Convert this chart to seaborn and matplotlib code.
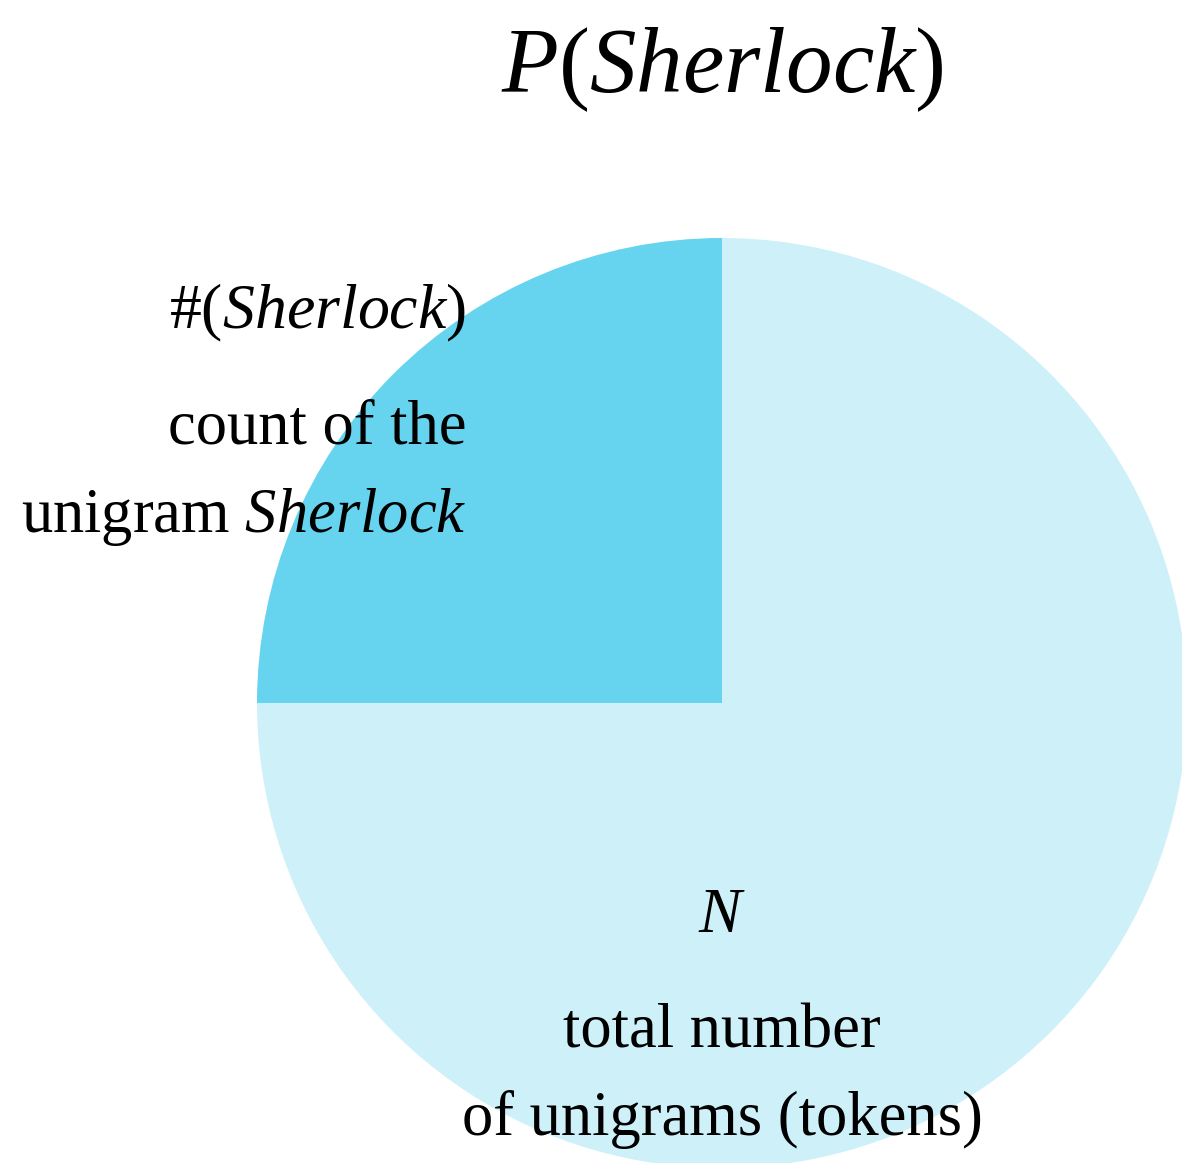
import matplotlib
matplotlib.use("Agg")
import matplotlib.pyplot as plt
import seaborn as sns

# Data
labels = ["#(Sherlock)", "N"]
values = [25, 75]
colors = ["#66D4EF", "#CDF0F9"]

sns.set_theme(style="white")
plt.rcParams['font.family'] = ['Liberation Serif', 'DejaVu Serif']
plt.rcParams['mathtext.fontset'] = 'custom'
plt.rcParams['mathtext.rm'] = 'Liberation Serif'
plt.rcParams['mathtext.it'] = 'Liberation Serif:italic'
plt.rcParams['mathtext.bf'] = 'Liberation Serif:bold'
plt.rcParams['text.color'] = 'black'

W, H = 1182, 1163
fig = plt.figure(figsize=(W / 100, H / 100), dpi=100)
ax = fig.add_axes([0, 0, 1, 1])

cx, cy, r = 722, H - 703, 465
ax.pie(values, colors=colors, startangle=90, counterclock=True,
       center=(cx, cy), radius=r, wedgeprops=dict(linewidth=0))
ax.set_xlim(0, W)
ax.set_ylim(0, H)
ax.set_aspect('auto')
ax.axis('off')

def y(p):
    return H - p

kw = dict(color='black', va='baseline')
ax.text(722, y(92), r'$P(Sherlock)$', fontsize=67, ha='center', **kw)
ax.text(466, y(328), r'$\#(Sherlock)$', fontsize=46, ha='right', **kw)
ax.text(466, y(443), 'count of the', fontsize=45, ha='right', **kw)
ax.text(466, y(532), r'unigram $Sherlock$', fontsize=45, ha='right', **kw)
ax.text(722, y(932), r'$N$', fontsize=46, ha='center', **kw)
ax.text(722, y(1047), 'total number', fontsize=45, ha='center', **kw)
ax.text(722, y(1135), 'of unigrams (tokens)', fontsize=45, ha='center', **kw)

fig.savefig('out.png', dpi=100, facecolor='white')
